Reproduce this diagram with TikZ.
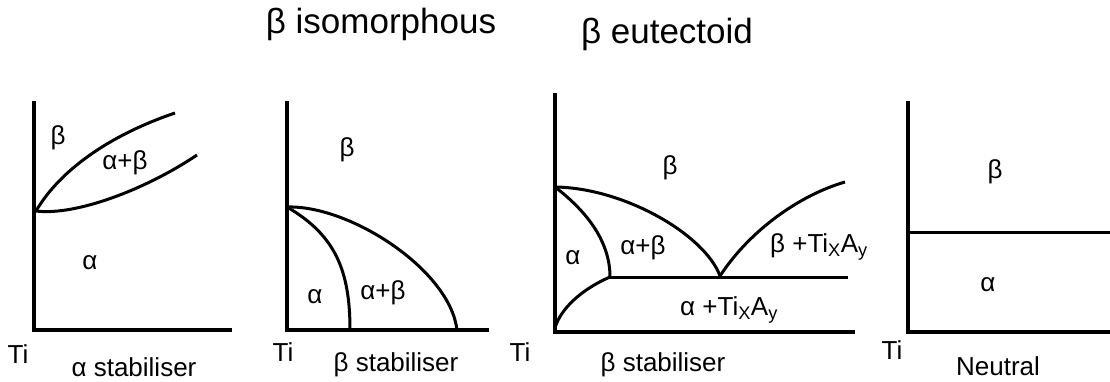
\documentclass[tikz,border=0pt]{standalone}
\usepackage{fontspec}
\setmainfont{Liberation Sans}
\begin{document}
\begin{tikzpicture}[x=1pt,y=-1pt,
  axis/.style={line width=3.6pt,line cap=rect},
  curve/.style={line width=3pt},
  lbl/.style={inner sep=0pt,font=\fontsize{26}{29}\selectfont},
  ttl/.style={inner sep=0pt,anchor=base,font=\fontsize{35}{40}\selectfont}]
\useasboundingbox (0,0) rectangle (1110,382);
% titles
\node[ttl] (t1) at (381,34) {β isomorphous};
\node[ttl] (t2) at (667,44) {β eutectoid};
% ---------- panel 1 ----------
\coordinate (T1) at (34,103); \coordinate (R1) at (230,330);
\coordinate (P1) at (36,211); \coordinate (U1) at (175,113); \coordinate (L1) at (197,155);
\draw[axis] (T1) |- (R1);
\draw[curve] (P1) .. controls (60,170) and (110,135) .. (U1);
\draw[curve] (P1) .. controls (75,216) and (145,190) .. (L1);
\node[lbl] (b1) at (58,138) {β};
\node[lbl] (ab1) at (125,163) {α+β};
\node[lbl] (a1) at (90,263) {α};
\node[lbl] (ti1) at (18,354) {Ti};
\node[lbl] (x1) at (134,367) {α stabiliser};
% ---------- panel 2 ----------
\coordinate (T2) at (287,103); \coordinate (R2) at (487,330);
\coordinate (P2) at (287,207); \coordinate (I2) at (350,330); \coordinate (E2) at (457,330);
\draw[axis] (T2) |- (R2);
\draw[curve] (P2) .. controls (335,235) and (350,270) .. (I2);
\draw[curve] (P2) .. controls (350,205) and (450,270) .. (E2);
\node[lbl] (b2) at (347,150) {β};
\node[lbl] (a2) at (315,297) {α};
\node[lbl] (ab2) at (383,293) {α+β};
\node[lbl] (ti2) at (283,352) {Ti};
\node[lbl] (x2) at (396,365) {β stabiliser};
% ---------- panel 3 ----------
\coordinate (T3) at (555,95); \coordinate (R3) at (853,332);
\coordinate (A3) at (555,187); \coordinate (E3) at (720,276); \coordinate (U3) at (845,182);
\coordinate (B3) at (610,277); \coordinate (H3) at (848,277); \coordinate (L3) at (555,328);
\draw[axis] (T3) |- (R3);
\draw[curve] (A3) .. controls (625,188) and (705,235) .. (E3);
\draw[curve] (E3) .. controls (750,230) and (800,195) .. (U3);
\draw[curve] (A3) .. controls (585,210) and (610,240) .. (B3);
\draw[curve] (B3) -- (H3);
\draw[curve] (B3) .. controls (580,290) and (560,310) .. (L3);
\node[lbl] (b3) at (670,168) {β};
\node[lbl] (a3) at (573,258) {α};
\node[lbl] (ab3) at (643,248) {α+β};
\node[lbl] (bt3) at (819,247) {β +Ti\textsubscript{X}A\textsubscript{y}};
\node[lbl] (at3) at (729,310) {α +Ti\textsubscript{X}A\textsubscript{y}};
\node[lbl] (ti3) at (520,352) {Ti};
\node[lbl] (x3) at (663,365) {β stabiliser};
% ---------- panel 4 ----------
\coordinate (T4) at (908,103); \coordinate (R4) at (1112,332);
\coordinate (M4) at (908,232); \coordinate (N4) at (1112,232);
\draw[axis] (T4) |- (R4);
\draw[curve] (M4) -- (N4);
\node[lbl] (b4) at (995,172) {β};
\node[lbl] (a4) at (988,285) {α};
\node[lbl] (ti4) at (892,350) {Ti};
\node[lbl] (x4) at (998,366) {Neutral};
\end{tikzpicture}
\end{document}
